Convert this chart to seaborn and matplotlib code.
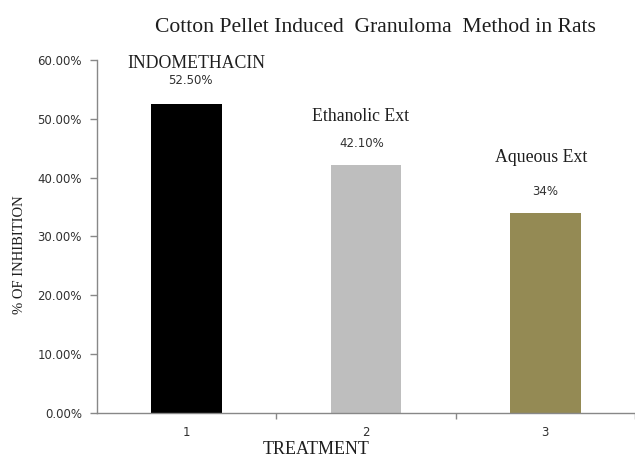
import matplotlib
matplotlib.use("Agg")
import matplotlib.pyplot as plt
import seaborn as sns
import pandas as pd

# Data
treatments = ["1", "2", "3"]
groups = ["INDOMETHACIN", "Ethanolic Ext", "Aqueous Ext"]
inhibition = [52.5, 42.1, 34.0]
label_decimals = [2, 2, 0]
bar_colors = ["#000000", "#BEBEBE", "#948A54"]
y_ticks = [0, 10, 20, 30, 40, 50, 60]

df = pd.DataFrame({"treatment": treatments, "inhibition": inhibition})

sns.set_theme(style="white")
plt.rcParams["font.family"] = ["DejaVu Sans"]

fig = plt.figure(figsize=(6.35, 4.58), dpi=100)
ax = fig.add_axes([0.1528, 0.0983, 0.8472, 0.7707])

sns.barplot(data=df, x="treatment", y="inhibition", hue="treatment",
            palette=bar_colors, legend=False, width=0.395, saturation=1,
            linewidth=0, ax=ax)

ax.set_xlim(-0.5, 2.5)
ax.set_ylim(0, 60)
ax.set_yticks(y_ticks)
ax.set_yticklabels([f"{t:.2f}%" for t in y_ticks])
ax.set_xticks(range(len(treatments)))
ax.set_xticklabels(treatments)
ax.set_xticks([0.5, 1.5, 2.5], minor=True)

tick_grey = "#888888"
text_dark = "#303030"
for side in ("top", "right"):
    ax.spines[side].set_visible(False)
for side in ("left", "bottom"):
    ax.spines[side].set_color(tick_grey)
    ax.spines[side].set_linewidth(1.0)

ax.tick_params(axis="y", which="major", direction="out", length=5, width=1,
               color=tick_grey, labelsize=8.5, labelcolor=text_dark, pad=6,
               left=True)
ax.tick_params(axis="x", which="major", length=0, labelsize=8.5,
               labelcolor=text_dark, pad=9.5)
ax.tick_params(axis="x", which="minor", direction="out", length=4, width=1,
               color=tick_grey, bottom=True)

serif = ["Liberation Serif", "DejaVu Serif"]
ax.set_xlabel("TREATMENT", family=serif, fontsize=13, color="#1E1E1E")
ax.xaxis.label.set_verticalalignment("baseline")
ax.xaxis.set_label_coords(0.407, -0.1176)
ax.set_ylabel("% OF INHIBITION", family=serif, fontsize=10.5,
              color="#1E1E1E")
ax.yaxis.set_label_coords(-0.132, 0.448)

fig.text(0.591, 0.931, "Cotton Pellet Induced  Granuloma  Method in Rats",
         family=serif, fontsize=15.6, color="#1E1E1E", ha="center",
         va="baseline")

# Value labels and group names above each bar
pct_offsets = [(4, 20), (-4, 18), (0, 18)]
name_offsets = [(10, 36), (-5, 44), (-4, 51)]
for i, (v, d, name) in enumerate(zip(inhibition, label_decimals, groups)):
    ax.annotate(f"{v:.{d}f}%", (i, v), xytext=pct_offsets[i],
                textcoords="offset pixels", ha="center", va="baseline",
                fontsize=8.5, color=text_dark)
    ax.annotate(name, (i, v), xytext=name_offsets[i],
                textcoords="offset pixels", ha="center", va="baseline",
                family=serif, fontsize=12.8, color="#1E1E1E")

fig.savefig("out.png", dpi=100, facecolor="white")
